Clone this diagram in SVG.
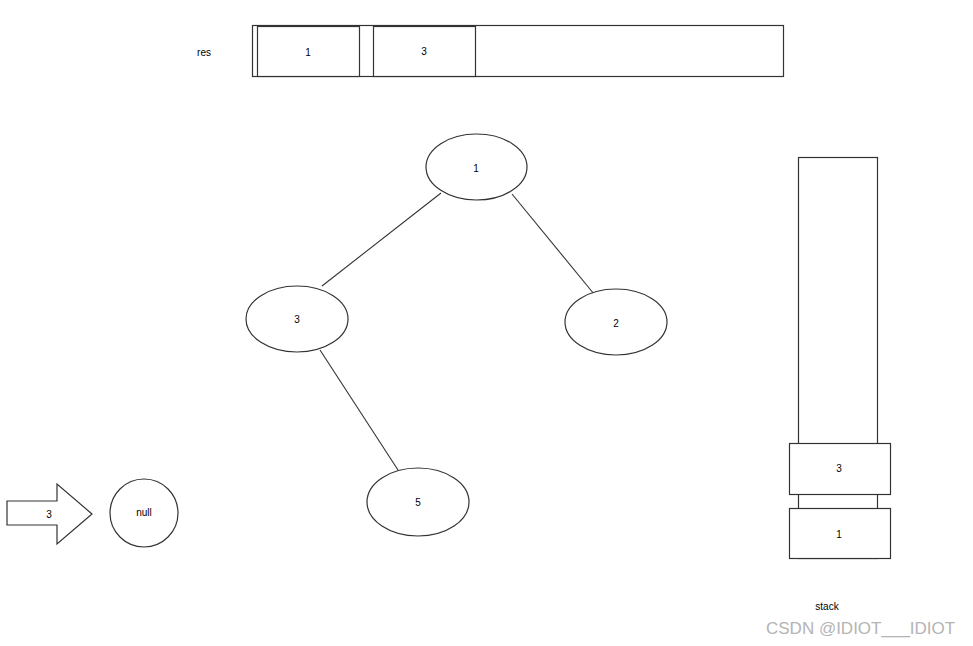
<svg xmlns="http://www.w3.org/2000/svg" width="973" height="646" viewBox="0 0 973 646">
<style>
.s{fill:#fff;stroke:#333;stroke-width:1.2}
.t{font-family:"Liberation Sans",Arial,sans-serif;font-size:10px;fill:#000;text-anchor:middle;dominant-baseline:central}
.e{stroke:#333;stroke-width:1.1;fill:none}
</style>
<rect width="973" height="646" fill="#fff"/>
<g id="res">
<text class="t" x="204" y="52">res</text>
<rect class="s" x="252.5" y="25.5" width="531" height="51"/>
<rect class="s" x="257.5" y="26.5" width="102" height="50"/>
<text class="t" x="308" y="52">1</text>
<rect class="s" x="373.5" y="26.5" width="102" height="50"/>
<text class="t" x="424" y="51">3</text>
</g>
<g id="connectors">
<line class="e" x1="441" y1="193" x2="322" y2="286"/>
<line class="e" x1="512" y1="194" x2="594" y2="294"/>
<line class="e" x1="320" y1="350" x2="398" y2="470"/>
</g>
<g id="n1"><ellipse class="s" cx="476.5" cy="167" rx="50.5" ry="33"/><text class="t" x="476" y="168">1</text></g>
<g id="n3"><ellipse class="s" cx="297" cy="319" rx="51" ry="33"/><text class="t" x="297" y="319">3</text></g>
<g id="n2"><ellipse class="s" cx="616" cy="322" rx="51" ry="33"/><text class="t" x="616" y="323">2</text></g>
<g id="n5"><ellipse class="s" cx="418" cy="502" rx="51" ry="34"/><text class="t" x="418" y="502">5</text></g>
<g id="arrow">
<polygon class="s" points="7,501 57,501 57,484 92,514 57,544 57,525 7,525"/>
<text class="t" x="49" y="514">3</text>
</g>
<g id="null"><circle class="s" cx="144" cy="513" r="34"/><text class="t" x="144" y="512">null</text></g>
<g id="stack">
<rect class="s" x="798.5" y="157.5" width="79" height="401"/>
<rect class="s" x="789.5" y="443.5" width="101" height="51"/>
<text class="t" x="839" y="468">3</text>
<rect class="s" x="789.5" y="508.5" width="101" height="50"/>
<text class="t" x="839" y="534">1</text>
<text class="t" x="827" y="606">stack</text>
</g>
<text x="766" y="634" font-family="'Liberation Sans',Arial,sans-serif" font-size="17" fill="#b4b4b4">CSDN @IDIOT___IDIOT</text>
</svg>
